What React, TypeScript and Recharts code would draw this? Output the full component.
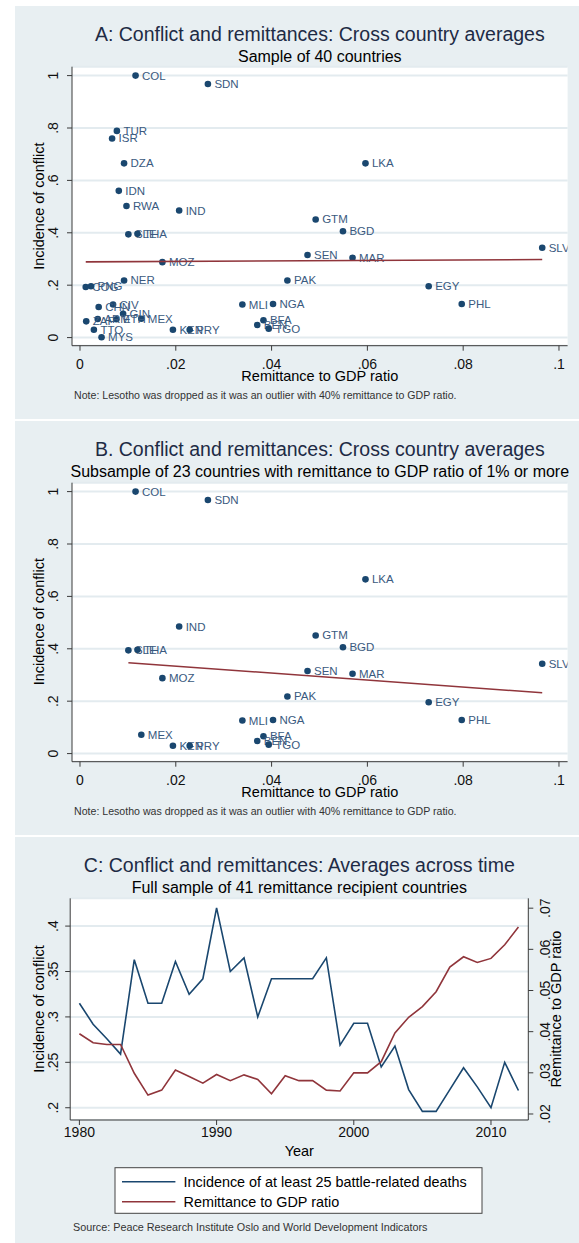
import React from 'react';
import { ScatterChart, Scatter, LineChart, Line, XAxis, YAxis, CartesianGrid } from 'recharts';

const FONT = 'Arial, "Liberation Sans", sans-serif';
const NAVY = '#1a476f';
const MAROON = '#90353b';
const BG = '#e8eff2';
const GRID = '#e3ebef';
const AXIS = '#3a3a3a';

// cross-country averages (panel A)
const countryCodes = ['COL', 'SDN', 'TUR', 'ISR', 'DZA', 'LKA', 'IDN', 'RWA', 'IND', 'GTM', 'BGD', 'SLE', 'THA', 'SLV', 'SEN', 'MAR', 'MOZ', 'NER', 'PAK', 'EGY', 'COG', 'PNG', 'MLI', 'NGA', 'PHL', 'CIV', 'CHN', 'GIN', 'MEX', 'ETH', 'ARM', 'ZAF', 'TTO', 'MYS', 'KEN', 'PRY', 'BFA', 'BEN', 'TGO'];
const remitRatio = [0.0116, 0.0267, 0.0077, 0.0067, 0.0092, 0.0596, 0.0081, 0.0097, 0.0207, 0.0492, 0.0549, 0.0101, 0.012, 0.0965, 0.0475, 0.0569, 0.0172, 0.0092, 0.0433, 0.0728, 0.0012, 0.0023, 0.0339, 0.0403, 0.0797, 0.0069, 0.0039, 0.009, 0.0128, 0.0076, 0.0037, 0.0013, 0.0029, 0.0045, 0.0194, 0.0229, 0.0383, 0.037, 0.0394];
const conflictIncidence = [1.0, 0.968, 0.789, 0.76, 0.665, 0.665, 0.56, 0.502, 0.485, 0.451, 0.406, 0.394, 0.396, 0.343, 0.315, 0.305, 0.288, 0.218, 0.218, 0.196, 0.193, 0.196, 0.126, 0.128, 0.128, 0.126, 0.117, 0.091, 0.072, 0.07, 0.071, 0.062, 0.03, 0.001, 0.03, 0.03, 0.066, 0.048, 0.034];

// fitted lines
const fitA = [{ x: 0.0012, y: 0.289 }, { x: 0.0965, y: 0.298 }];
const fitB = [{ x: 0.0101, y: 0.347 }, { x: 0.0965, y: 0.232 }];

// averages across time (panel C)
const years = [1980, 1981, 1982, 1983, 1984, 1985, 1986, 1987, 1988, 1989, 1990, 1991, 1992, 1993, 1994, 1995, 1996, 1997, 1998, 1999, 2000, 2001, 2002, 2003, 2004, 2005, 2006, 2007, 2008, 2009, 2010, 2011, 2012];
const conflictByYear = [0.315, 0.292, 0.276, 0.259, 0.363, 0.315, 0.315, 0.361, 0.325, 0.342, 0.42, 0.35, 0.365, 0.3, 0.342, 0.342, 0.342, 0.342, 0.365, 0.269, 0.293, 0.293, 0.245, 0.268, 0.22, 0.196, 0.196, 0.22, 0.244, 0.223, 0.2, 0.25, 0.219];
const remitByYear = [0.0395, 0.0373, 0.0369, 0.0369, 0.0299, 0.0246, 0.0258, 0.0307, 0.0291, 0.0275, 0.0296, 0.0281, 0.0295, 0.0284, 0.0249, 0.0293, 0.0281, 0.0281, 0.0258, 0.0256, 0.03, 0.03, 0.0327, 0.0397, 0.0435, 0.0461, 0.0497, 0.0557, 0.0582, 0.0568, 0.0578, 0.0611, 0.0654];

const xTicksAB = [0, 0.02, 0.04, 0.06, 0.08, 0.1];
const yTicksAB = [0, 0.2, 0.4, 0.6, 0.8, 1];
const yearTicks = [1980, 1990, 2000, 2010];
const conflictTicks = [0.2, 0.25, 0.3, 0.35, 0.4];
const remitTicks = [0.02, 0.03, 0.04, 0.05, 0.06, 0.07];

const pointsA = countryCodes.map((name, i) => ({ name, x: remitRatio[i], y: conflictIncidence[i] }));
const pointsB = pointsA.filter((p) => p.x >= 0.01);
const timeRows = years.map((year, i) => ({ year, conflict: conflictByYear[i], remit: remitByYear[i] }));

const stata = (v: number) => (v === 0 ? '0' : String(+v.toFixed(3)).replace(/^0\./, '.'));

const XTick = (p: any) => (
  <text x={p.x} y={p.y} dy="0.71em" textAnchor="middle" fontSize={14} fontFamily={FONT} fill="#111">
    {p.fmt ? p.fmt(p.payload.value) : p.payload.value}
  </text>
);
const LeftTick = (p: any) => (
  <text x={p.x} y={p.y} transform={`rotate(-90 ${p.x} ${p.y})`} textAnchor="middle" fontSize={14} fontFamily={FONT} fill="#111">
    {stata(p.payload.value)}
  </text>
);
const RightTick = (p: any) => (
  <text x={p.x + 10} y={p.y} transform={`rotate(-90 ${p.x + 10} ${p.y})`} textAnchor="middle" fontSize={14} fontFamily={FONT} fill="#111">
    {stata(p.payload.value)}
  </text>
);

const Dot = (p: any) => (
  <g>
    <circle cx={p.cx} cy={p.cy} r={3.3} fill={NAVY} />
    <text x={p.cx + 6.5} y={p.cy + 4} fontSize={11.5} fontFamily={FONT} fill="#3a5a80">{p.payload.name}</text>
  </g>
);

function ScatterPanel({ top, points, fit }: { top: number; points: any[]; fit: any[] }) {
  return (
    <div style={{ position: 'absolute', left: 0, top }}>
      <ScatterChart width={579} height={420} margin={{ top: 66.7, right: 11.4, bottom: 44.3, left: 0 }}>
        <CartesianGrid vertical={false} fill="#fff" stroke={GRID} strokeWidth={2} />
        <XAxis type="number" dataKey="x" domain={[-0.00167, 0.1018]} ticks={xTicksAB} allowDataOverflow height={30}
          tickSize={5} tickMargin={8} tick={<XTick fmt={stata} />} axisLine={{ stroke: AXIS }} tickLine={{ stroke: AXIS }} />
        <YAxis type="number" dataKey="y" domain={[-0.031, 1.034]} ticks={yTicksAB} allowDataOverflow width={72}
          tickSize={5} tickMargin={8.5} tick={<LeftTick />} axisLine={{ stroke: AXIS }} tickLine={{ stroke: AXIS }} />
        <Scatter data={points} shape={<Dot />} isAnimationActive={false} />
        <Scatter data={fit} line={{ stroke: MAROON, strokeWidth: 1.6 }} shape={() => <g />} isAnimationActive={false} />
      </ScatterChart>
    </div>
  );
}

function TimePanel({ top }: { top: number }) {
  return (
    <div style={{ position: 'absolute', left: 0, top }}>
      <LineChart width={579} height={412} data={timeRows} margin={{ top: 67.3, right: 0, bottom: 93, left: 0 }}>
        <CartesianGrid vertical={false} fill="#fff" stroke={GRID} strokeWidth={2} yAxisId="left" />
        <XAxis type="number" dataKey="year" domain={[1979.33, 2012.72]} ticks={yearTicks} allowDataOverflow height={30}
          tickSize={5} tickMargin={2} tick={<XTick />} axisLine={{ stroke: AXIS }} tickLine={{ stroke: AXIS }} />
        <YAxis yAxisId="left" type="number" domain={[0.1865, 0.4306]} ticks={conflictTicks} allowDataOverflow width={70.2}
          tickSize={5} tickMargin={7} tick={<LeftTick />} axisLine={{ stroke: AXIS }} tickLine={{ stroke: AXIS }} />
        <YAxis yAxisId="right" orientation="right" type="number" domain={[0.01854, 0.0724]} ticks={remitTicks} allowDataOverflow width={50.7}
          tickSize={5} tickMargin={7} tick={<RightTick />} axisLine={{ stroke: AXIS }} tickLine={{ stroke: AXIS }} />
        <Line yAxisId="left" type="linear" dataKey="conflict" stroke={NAVY} strokeWidth={1.6} dot={false} isAnimationActive={false} />
        <Line yAxisId="right" type="linear" dataKey="remit" stroke={MAROON} strokeWidth={1.6} dot={false} isAnimationActive={false} />
      </LineChart>
    </div>
  );
}

const T = (p: any) => (
  <text x={p.x} y={p.y} fontSize={p.size} fontFamily={FONT} fill={p.fill || '#000'} textAnchor={p.anchor || 'middle'}
    transform={p.rot ? `rotate(-90 ${p.x} ${p.y})` : undefined} dominantBaseline={p.rot ? 'central' : undefined}>
    {p.children}
  </text>
);

function Texts({ d, title, subtitle, note, right }: any) {
  const cx = right ? 299.3 : 319.8;
  const plotMid = right ? 1009 - 831 : 206.2;
  return (
    <g>
      <T x={cx} y={d + 40.5} size={19.5} fill="#1e2b45">{title}</T>
      <T x={cx} y={d + 61.5} size={16}>{subtitle}</T>
      <T x={39} y={d + plotMid} size={14.5} rot>Incidence of conflict</T>
      {right ? (
        <>
          <T x={556} y={d + plotMid} size={14.5} rot>Remittance to GDP ratio</T>
          <T x={cx} y={d + 325} size={14.5}>Year</T>
        </>
      ) : (
        <>
          <T x={cx} y={d + 381} size={14.5}>Remittance to GDP ratio</T>
          <T x={74} y={d + 399} size={10.6} anchor="start" fill="#333">{note}</T>
        </>
      )}
    </g>
  );
}

export default function App() {
  const NOTE = 'Note: Lesotho was dropped as it was an outlier with 40% remittance to GDP ratio.';
  return (
    <div style={{ position: 'absolute', left: 0, top: 0, width: 579, height: 1243, background: '#fff', overflow: 'hidden' }}>
      <div style={{ position: 'absolute', left: 15, top: 6, width: 564, height: 413, background: BG }} />
      <div style={{ position: 'absolute', left: 15, top: 421, width: 564, height: 414, background: BG }} />
      <div style={{ position: 'absolute', left: 15, top: 837, width: 564, height: 406, background: BG }} />
      <ScatterPanel top={0} points={pointsA} fit={fitA} />
      <ScatterPanel top={415.5} points={pointsB} fit={fitB} />
      <TimePanel top={831} />
      <svg width={579} height={1243} style={{ position: 'absolute', left: 0, top: 0, pointerEvents: 'none' }}>
        <Texts d={0} title="A: Conflict and remittances: Cross country averages" subtitle="Sample of 40 countries" note={NOTE} />
        <Texts d={415.5} title="B. Conflict and remittances: Cross country averages" subtitle="Subsample of 23 countries with remittance to GDP ratio of 1% or more" note={NOTE} />
        <Texts d={831} right title="C: Conflict and remittances: Averages across time" subtitle="Full sample of 41 remittance recipient countries" />
        <rect x={115} y={1167.7} width={367} height={45.6} fill="#fff" stroke="#444" strokeWidth={1} />
        <line x1={122} x2={175.4} y1={1181.7} y2={1181.7} stroke={NAVY} strokeWidth={1.6} />
        <line x1={122} x2={175.4} y1={1201.7} y2={1201.7} stroke={MAROON} strokeWidth={1.6} />
        <T x={183.5} y={1186.8} size={14.4} anchor="start">Incidence of at least 25 battle-related deaths</T>
        <T x={183.5} y={1206.8} size={14.4} anchor="start">Remittance to GDP ratio</T>
        <T x={73} y={1231} size={10.8} anchor="start" fill="#333">Source: Peace Research Institute Oslo and World Development Indicators</T>
      </svg>
    </div>
  );
}
